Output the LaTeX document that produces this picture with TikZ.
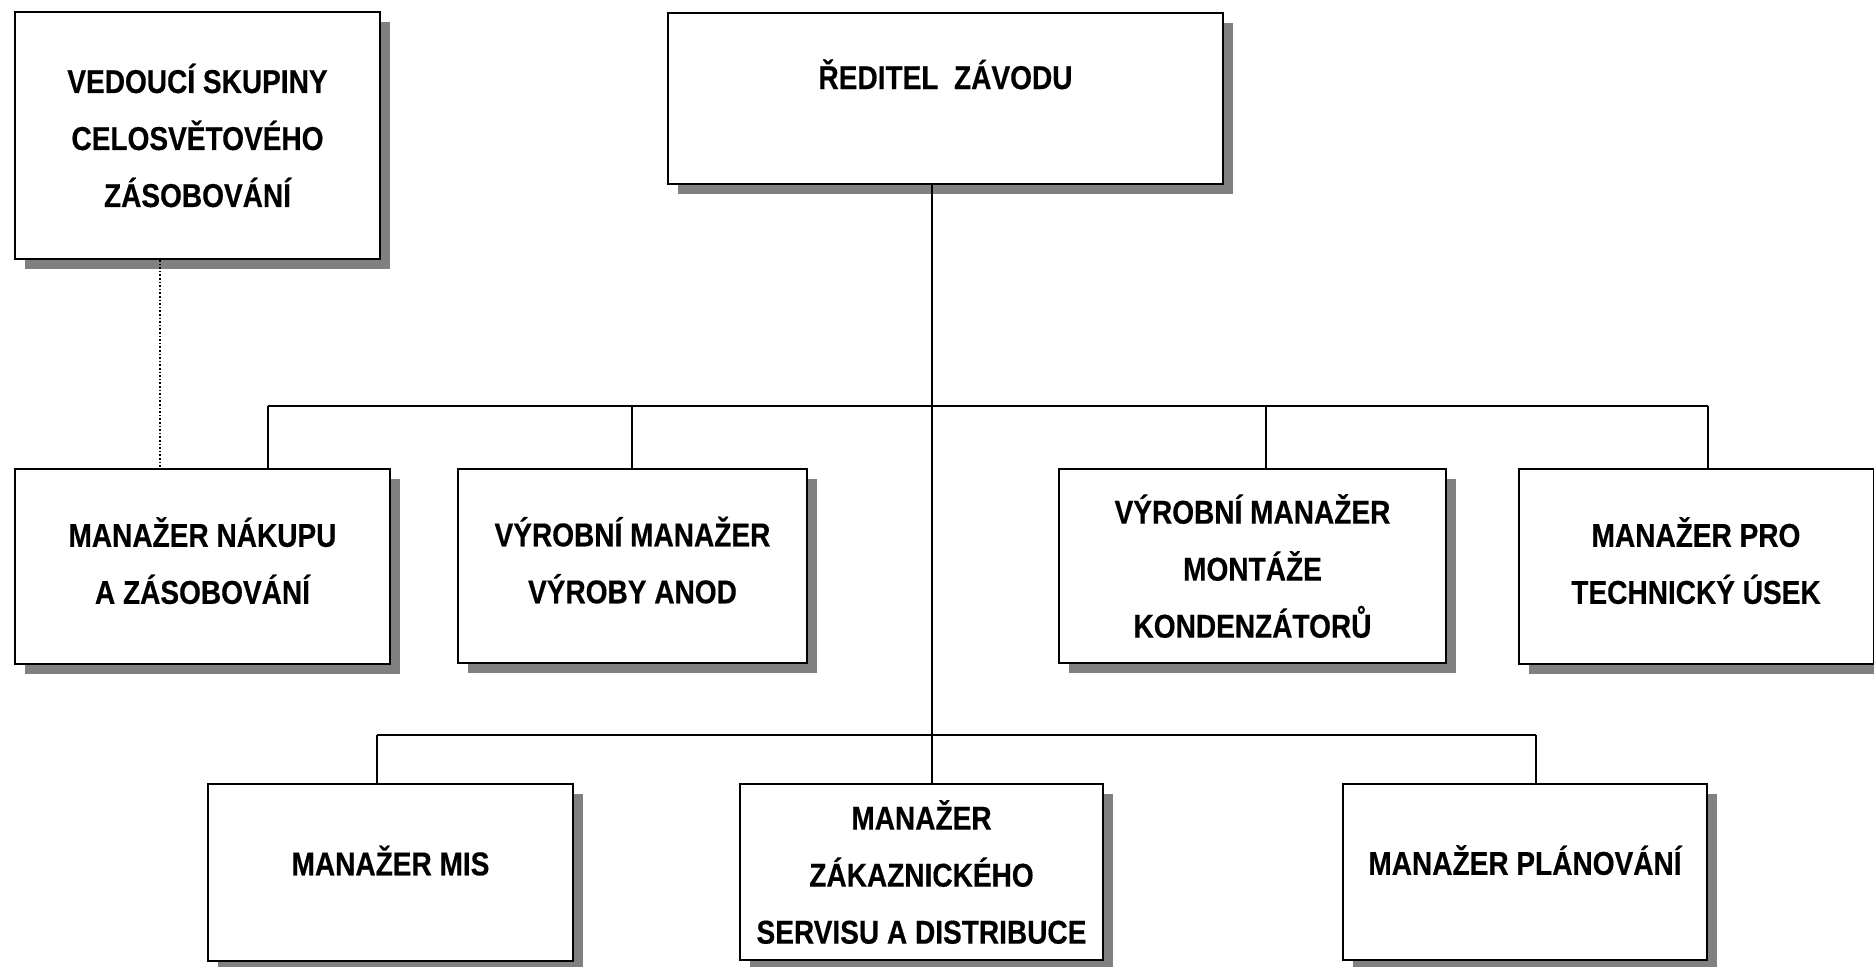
\documentclass[tikz,border=0pt]{standalone}
\usepackage{fontspec}
\newfontfamily\lbl[FakeStretch=0.85, BoldFeatures={FakeBold=0.4}]{Liberation Sans}
\usetikzlibrary{shadows}

\begin{document}
\begin{tikzpicture}[x=0.5pt,y=-0.5pt,
  orgbox/.style={draw=black, line width=1pt, fill=white, inner sep=0pt, align=center,
    font=\lbl\bfseries\fontsize{16.5}{28.5}\selectfont,
    drop shadow={shadow xshift=5pt, shadow yshift=-5pt, fill=black!50, opacity=1}},
  boxsize/.style 2 args={minimum width=#1*0.5pt, minimum height=#2*0.5pt},
  link/.style={line width=0.8pt, draw=black},
  dotlink/.style={line width=0.8pt, densely dotted}]
\useasboundingbox (0,0) rectangle (1874,966);
\clip (0,0) rectangle (1874,966);

% boxes
\node[orgbox, boxsize={365}{247}] (ved) at (197.5,135.5)
  {VEDOUCÍ SKUPINY\\CELOSVĚTOVÉHO\\ZÁSOBOVÁNÍ};
\node[orgbox, anchor=north west, minimum width=277.5pt,
      text height=38pt, text depth=47.5pt] (red) at (667,12) {ŘEDITEL\ \ ZÁVODU};

\node[orgbox, boxsize={375}{195}, text depth=6pt] (nak) at (202.5,566.5)
  {MANAŽER NÁKUPU\\A ZÁSOBOVÁNÍ};
\node[orgbox, boxsize={349}{194}, text depth=6pt] (anod) at (632.5,566)
  {VÝROBNÍ MANAŽER\\VÝROBY ANOD};
\node[orgbox, boxsize={387}{194}] (mont) at (1252.5,566)
  {VÝROBNÍ MANAŽER\\MONTÁŽE\\KONDENZÁTORŮ};
\node[orgbox, boxsize={355}{195}, text depth=6pt] (pro) at (1696,566.5)
  {MANAŽER PRO\\TECHNICKÝ ÚSEK};

\node[orgbox, boxsize={365}{177}, text depth=12pt] (mis) at (390.5,872.5) {MANAŽER MIS};
\node[orgbox, boxsize={363}{176}] (zak) at (921.5,872)
  {MANAŽER\\ZÁKAZNICKÉHO\\SERVISU A DISTRIBUCE};
\node[orgbox, boxsize={364}{176}, text depth=12pt] (plan) at (1525,872) {MANAŽER PLÁNOVÁNÍ};

% junction points of the connectors
\coordinate (trunk) at (932,406);
\coordinate (jnak)  at (268,406);
\coordinate (janod) at (632,406);
\coordinate (jmont) at (1266,406);
\coordinate (jpro)  at (1708,406);
\coordinate (jmis)  at (377,735);
\coordinate (jplan) at (1536,735);
\coordinate (dot)   at (160,0);

% main trunk and buses
\draw[link] (red.south -| trunk) -- (zak.north -| trunk);
\draw[link] (jnak) -- (jpro);
\draw[link] (jmis) -- (jplan);

% drops to the boxes
\draw[link] (jnak)  -- (nak.north -| jnak);
\draw[link] (janod) -- (anod.north -| janod);
\draw[link] (jmont) -- (mont.north -| jmont);
\draw[link] (jpro)  -- (pro.north -| jpro);
\draw[link] (jmis)  -- (mis.north -| jmis);
\draw[link] (jplan) -- (plan.north -| jplan);

% functional (dotted) link
\draw[dotlink] (ved.south -| dot) -- (nak.north -| dot);
\end{tikzpicture}
\end{document}
